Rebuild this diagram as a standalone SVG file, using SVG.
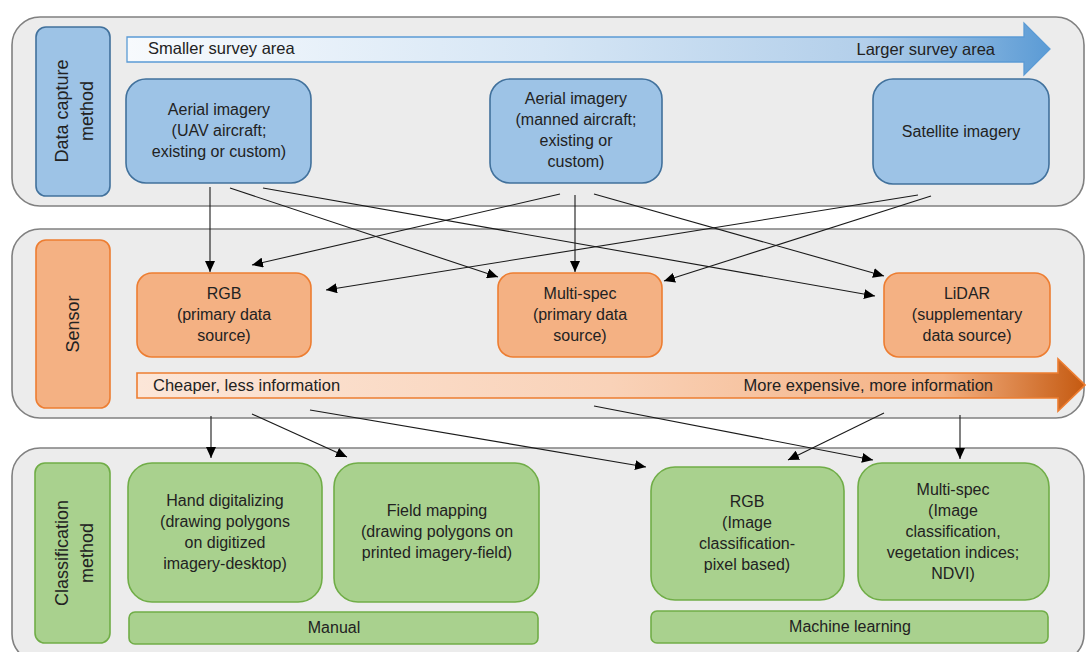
<svg xmlns="http://www.w3.org/2000/svg" width="1086" height="652" viewBox="0 0 1086 652">
  <defs>
    <style>
      text { font-family: "Liberation Sans", Arial, sans-serif; font-size: 16px; fill: #222222; }
      .mid { text-anchor: middle; }
      .side { font-size: 18px; text-anchor: middle; }
      .bar { font-size: 16.5px; }
      .panel { fill: #ececec; stroke: #808080; stroke-width: 1.6; }
      .blue { fill: #9dc3e6; stroke: #41719c; stroke-width: 1.6; }
      .orange { fill: #f4b183; stroke: #ed7d31; stroke-width: 1.6; }
      .green { fill: #a9d18e; stroke: #70ad47; stroke-width: 1.6; }
      .conn line { stroke: #1a1a1a; stroke-width: 1.1; marker-end: url(#head); }
    </style>
    <marker id="head" markerUnits="userSpaceOnUse" markerWidth="12" markerHeight="10" refX="11" refY="5" orient="auto">
      <path d="M0,0 L11,5 L0,10 z" fill="#000"/>
    </marker>
    <linearGradient id="gBlue" gradientUnits="userSpaceOnUse" x1="127" y1="0" x2="1050" y2="0">
      <stop offset="0" stop-color="#f7fafd"/>
      <stop offset="0.45" stop-color="#d6e6f5"/>
      <stop offset="0.8" stop-color="#b3cfea"/>
      <stop offset="1" stop-color="#5b9bd5"/>
    </linearGradient>
    <linearGradient id="gOrange" gradientUnits="userSpaceOnUse" x1="137" y1="0" x2="1085" y2="0">
      <stop offset="0" stop-color="#fce6d8"/>
      <stop offset="0.5" stop-color="#f9d2b8"/>
      <stop offset="0.85" stop-color="#f4b183"/>
      <stop offset="1" stop-color="#c55a11"/>
    </linearGradient>
  </defs>

  <!-- band backgrounds -->
  <rect class="panel" x="12" y="17" width="1072" height="189" rx="28"/>
  <rect class="panel" x="12" y="229" width="1072" height="189" rx="28"/>
  <rect class="panel" x="12" y="448" width="1072" height="214" rx="28"/>

  <!-- band 1: data capture method -->
  <g id="label-capture">
    <rect class="blue" x="36" y="27" width="74" height="169" rx="10"/>
    <text class="side" transform="translate(74,111) rotate(-90)"><tspan x="0" y="-6">Data capture</tspan><tspan x="0" y="19">method</tspan></text>
  </g>
  <g id="scale-survey">
    <path d="M127,37 H1024 V23 L1050,49 L1024,75 V62 H127 Z" fill="url(#gBlue)" stroke="#5b9bd5" stroke-width="1.3"/>
    <text class="bar" x="148" y="54">Smaller survey area</text>
    <text class="bar" x="995" y="55" text-anchor="end">Larger survey area</text>
  </g>
  <g id="uav">
    <rect class="blue" x="126" y="79" width="185" height="104" rx="20"/>
    <text class="mid" x="219" y="115">Aerial imagery</text>
    <text class="mid" x="219" y="136">(UAV aircraft;</text>
    <text class="mid" x="219" y="157">existing or custom)</text>
  </g>
  <g id="manned">
    <rect class="blue" x="490" y="79" width="172" height="104" rx="20"/>
    <text class="mid" x="576" y="104">Aerial imagery</text>
    <text class="mid" x="576" y="125">(manned aircraft;</text>
    <text class="mid" x="576" y="146">existing or</text>
    <text class="mid" x="576" y="167">custom)</text>
  </g>
  <g id="satellite">
    <rect class="blue" x="873" y="79" width="176" height="105" rx="20"/>
    <text class="mid" x="961" y="137">Satellite imagery</text>
  </g>

  <!-- band 2: sensor -->
  <g id="label-sensor">
    <rect class="orange" x="36" y="240" width="74" height="168" rx="10"/>
    <text class="side" transform="translate(73,324) rotate(-90)" x="0" y="6">Sensor</text>
  </g>
  <g id="sensor-rgb">
    <rect class="orange" x="137" y="273" width="174" height="84" rx="15"/>
    <text class="mid" x="224" y="299">RGB</text>
    <text class="mid" x="224" y="320">(primary data</text>
    <text class="mid" x="224" y="341">source)</text>
  </g>
  <g id="sensor-multispec">
    <rect class="orange" x="498" y="273" width="164" height="84" rx="15"/>
    <text class="mid" x="580" y="299">Multi-spec</text>
    <text class="mid" x="580" y="320">(primary data</text>
    <text class="mid" x="580" y="341">source)</text>
  </g>
  <g id="sensor-lidar">
    <rect class="orange" x="884" y="273" width="166" height="84" rx="15"/>
    <text class="mid" x="967" y="299">LiDAR</text>
    <text class="mid" x="967" y="320">(supplementary</text>
    <text class="mid" x="967" y="341">data source)</text>
  </g>
  <g id="scale-cost">
    <path d="M137,373 H1058 V359 L1085,385 L1058,411 V398 H137 Z" fill="url(#gOrange)" stroke="#ed7d31" stroke-width="1.6"/>
    <text class="bar" x="153" y="391">Cheaper, less information</text>
    <text class="bar" x="993" y="391" text-anchor="end">More expensive, more information</text>
  </g>

  <!-- band 3: classification method -->
  <g id="label-classification">
    <rect class="green" x="35" y="463" width="75" height="180" rx="10"/>
    <text class="side" transform="translate(74,553) rotate(-90)"><tspan x="0" y="-6">Classification</tspan><tspan x="0" y="19">method</tspan></text>
  </g>
  <g id="hand-digitizing">
    <rect class="green" x="128" y="463" width="194" height="139" rx="24"/>
    <text class="mid" x="225" y="506">Hand digitalizing</text>
    <text class="mid" x="225" y="527">(drawing polygons</text>
    <text class="mid" x="225" y="548">on digitized</text>
    <text class="mid" x="225" y="569">imagery-desktop)</text>
  </g>
  <g id="field-mapping">
    <rect class="green" x="334" y="463" width="205" height="139" rx="24"/>
    <text class="mid" x="437" y="516">Field mapping</text>
    <text class="mid" x="437" y="537">(drawing polygons on</text>
    <text class="mid" x="437" y="558">printed imagery-field)</text>
  </g>
  <g id="ml-rgb">
    <rect class="green" x="651" y="467" width="193" height="133" rx="24"/>
    <text class="mid" x="747" y="507">RGB</text>
    <text class="mid" x="747" y="528">(Image</text>
    <text class="mid" x="747" y="549">classification-</text>
    <text class="mid" x="747" y="570">pixel based)</text>
  </g>
  <g id="ml-multispec">
    <rect class="green" x="858" y="463" width="191" height="137" rx="24"/>
    <text class="mid" x="953" y="495">Multi-spec</text>
    <text class="mid" x="953" y="516">(Image</text>
    <text class="mid" x="953" y="537">classification,</text>
    <text class="mid" x="953" y="558">vegetation indices;</text>
    <text class="mid" x="953" y="579">NDVI)</text>
  </g>
  <g id="manual">
    <rect class="green" x="129" y="612" width="409" height="32" rx="6"/>
    <text class="mid" x="334" y="633">Manual</text>
  </g>
  <g id="machine-learning">
    <rect class="green" x="651" y="611" width="397" height="32" rx="6"/>
    <text class="mid" x="850" y="632">Machine learning</text>
  </g>

  <!-- connectors -->
  <g id="connectors" class="conn">
    <line x1="210" y1="187" x2="210" y2="272"/>
    <line x1="230" y1="188" x2="498" y2="277"/>
    <line x1="263" y1="188" x2="875" y2="296"/>
    <line x1="560" y1="194" x2="252" y2="265"/>
    <line x1="575" y1="195" x2="575" y2="272"/>
    <line x1="594" y1="194" x2="884" y2="276"/>
    <line x1="918" y1="195" x2="326" y2="290"/>
    <line x1="931" y1="196" x2="664" y2="281"/>
    <line x1="211" y1="416" x2="211" y2="458"/>
    <line x1="252" y1="414" x2="347" y2="457"/>
    <line x1="310" y1="410" x2="646" y2="467"/>
    <line x1="594" y1="406" x2="873" y2="460"/>
    <line x1="884" y1="413" x2="788" y2="460"/>
    <line x1="960" y1="415" x2="960" y2="459"/>
  </g>
</svg>
